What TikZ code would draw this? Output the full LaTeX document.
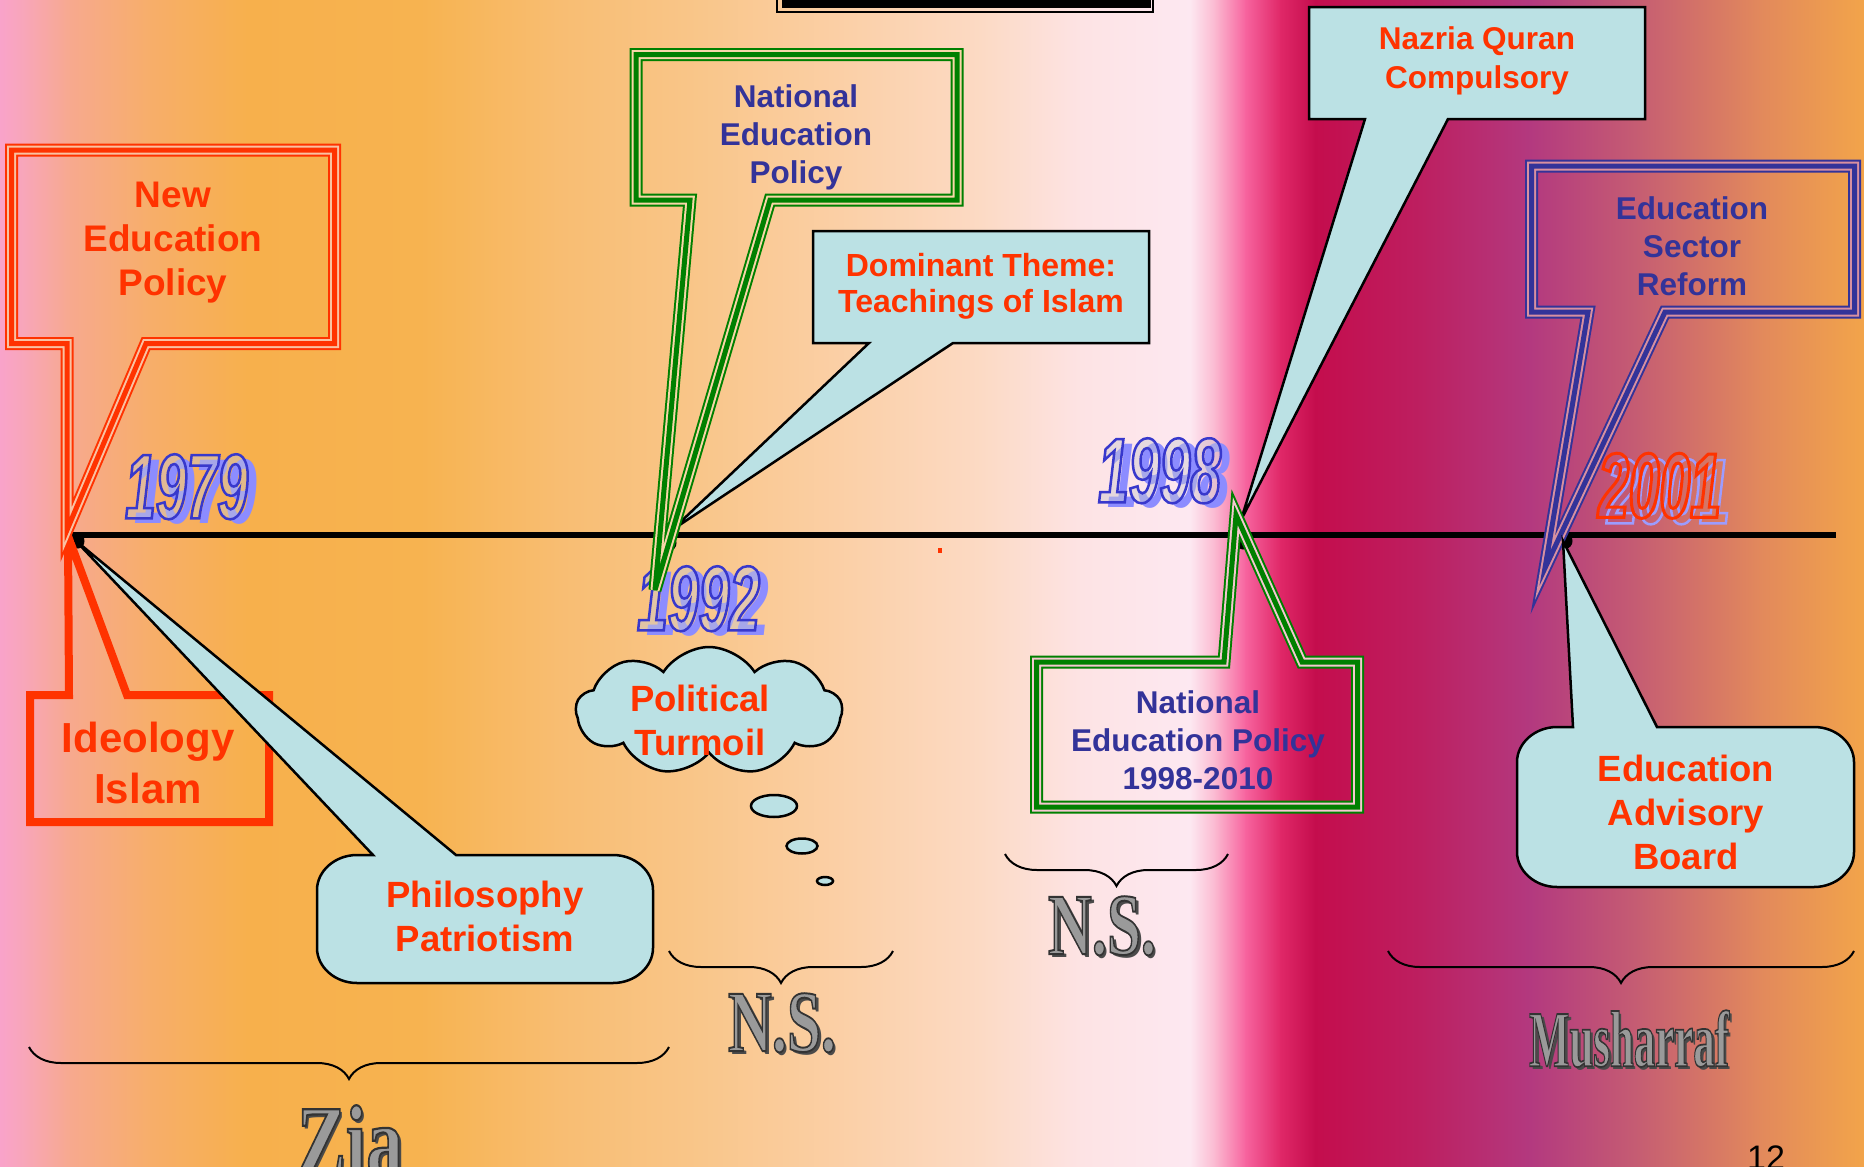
\documentclass[tikz,border=0pt]{standalone}
\usepackage{fontspec}
\usepackage{graphicx}
\setmainfont{Liberation Sans}
\newfontfamily\yearfam[FakeStretch=0.6]{Liberation Sans}
\newfontfamily\artfam{Liberation Serif}
\usetikzlibrary{shapes.symbols,decorations.pathreplacing}
\definecolor{ored}{HTML}{FF3300}
\definecolor{nblue}{HTML}{333399}
\definecolor{cfill}{HTML}{BBE1E4}
\definecolor{dgreen}{HTML}{008000}
\definecolor{yblue}{HTML}{3838CC}
\definecolor{shblue}{HTML}{8C8CFF}
\definecolor{shblueb}{HTML}{9C9CFF}
\definecolor{yfill}{HTML}{C8C8D0}
\definecolor{mgrey}{HTML}{9A9A9A}
\definecolor{mshadow}{HTML}{4A4A4A}
\definecolor{gapred}{HTML}{F9C2A2}
\definecolor{gapgreen}{HTML}{F8D6A8}
\definecolor{gapgreenb}{HTML}{F4C8D0}
\definecolor{gapblue}{HTML}{D890A0}
\definecolor{c0}{HTML}{F9A3CA}
\definecolor{c1}{HTML}{F8A6B8}
\definecolor{c2}{HTML}{F7A98E}
\definecolor{c3}{HTML}{F7AE6A}
\definecolor{c4}{HTML}{F7B04C}
\definecolor{c5}{HTML}{F7B350}
\definecolor{c6}{HTML}{F8BD72}
\definecolor{c7}{HTML}{F9C68A}
\definecolor{c8}{HTML}{FBD0A8}
\definecolor{c9}{HTML}{FCDAC4}
\definecolor{c10}{HTML}{FDE3E4}
\definecolor{c11}{HTML}{FDE8F1}
\definecolor{c12}{HTML}{FBB8D0}
\definecolor{c13}{HTML}{F7649F}
\definecolor{c14}{HTML}{E02868}
\definecolor{c15}{HTML}{C40D4D}
\definecolor{c16}{HTML}{BD1F60}
\definecolor{c17}{HTML}{B3397F}
\definecolor{c18}{HTML}{C65E72}
\definecolor{c19}{HTML}{E2895C}
\definecolor{c20}{HTML}{F2A44A}
\newcommand\strk[2]{\special{pdf:literal direct #1 w 1 Tr}#2\special{pdf:literal direct 0 Tr}}
\newcommand\mstrk[1]{\special{pdf:literal direct 0.2 0.2 0.2 RG 0.22 w 2 Tr}#1\special{pdf:literal direct 0 Tr}}
\newcommand\bgseg[4]{\shade[left color=#3,right color=#4] (#1,0) rectangle ({#2+0.8},1167);}
\tikzset{
  tri/.style 2 args={draw=#1, line width=13pt, line join=miter,
    postaction={draw=#2, line width=9pt, line join=miter},
    postaction={draw=#1, line width=5pt, line join=miter}},
  bubble/.style={draw=black, fill=cfill, line width=2.5pt, line join=miter},
  brc/.style={draw=black, line width=2pt, decorate, decoration={brace, mirror, amplitude=32pt}},
  txt/.style 2 args={align=center, inner sep=0pt, font=\bfseries\fontsize{#1}{#2}\selectfont},
  yr/.style={inner sep=0pt, anchor=north west, font=\yearfam\bfseries\itshape\fontsize{92}{92}\selectfont},
  art/.style={inner sep=0pt, anchor=north},
}
\begin{document}
\begin{tikzpicture}[x=1pt,y=-1pt]
\useasboundingbox (0,0) rectangle (1864,1167);
% background
\bgseg{0}{25}{c0}{c1}
\bgseg{25}{70}{c1}{c2}
\bgseg{70}{150}{c2}{c3}
\bgseg{150}{250}{c3}{c4}
\bgseg{250}{420}{c4}{c5}
\bgseg{420}{560}{c5}{c6}
\bgseg{560}{700}{c6}{c7}
\bgseg{700}{850}{c7}{c8}
\bgseg{850}{980}{c8}{c9}
\bgseg{980}{1080}{c9}{c10}
\bgseg{1080}{1190}{c10}{c11}
\bgseg{1190}{1215}{c11}{c12}
\bgseg{1215}{1245}{c12}{c13}
\bgseg{1245}{1280}{c13}{c14}
\bgseg{1280}{1315}{c14}{c15}
\bgseg{1315}{1420}{c15}{c16}
\bgseg{1420}{1530}{c16}{c17}
\bgseg{1530}{1640}{c17}{c18}
\bgseg{1640}{1760}{c18}{c19}
\bgseg{1760}{1863.2}{c19}{c20}

% title frame (cut off)
\draw[line width=2pt] (777,-20) rectangle (1153,11.5);
\draw[line width=7pt] (785,-20) rectangle (1147.5,4);

% timeline
\draw[line width=6pt] (62,535) -- (1836,535);
\fill (78,541) ellipse [x radius=6.5pt, y radius=7.5pt];
\fill (670,543) ellipse [x radius=6.5pt, y radius=7.5pt];
\fill (1243,542) ellipse [x radius=6.5pt, y radius=7.5pt];
\fill (1566,541) ellipse [x radius=6.5pt, y radius=7.5pt];
\fill[ored] (938,548) rectangle (942,553);

% years
\node[yr, text=shblue] (y79s) at (134,459) {1979};
\node[yr, text=yfill, text opacity=0.45] (y79f) at (125,454) {1979};
\node[yr, text=yblue] (y79) at (125,454) {\strk{2.5}{1979}};
\node[yr, text=shblue] (y92s) at (646,571) {1992};
\node[yr, text=yfill, text opacity=0.45] (y92f) at (637,566) {1992};
\node[yr, text=yblue] (y92) at (637,566) {\strk{2.5}{1992}};
\node[yr, text=shblue] (y98s) at (1107,443) {1998};
\node[yr, text=yfill, text opacity=0.45] (y98f) at (1098,438) {1998};
\node[yr, text=yblue] (y98) at (1098,438) {\strk{2.5}{1998}};
\node[yr, text=shblueb] (y01s) at (1607,459) {\strk{2.5}{2001}};
\node[yr, text=ored] (y01) at (1598,453) {\strk{3}{2001}};

% Ideology Islam callout
\draw[ored, line width=8pt, line join=miter] (30,695) -- (69,695) -- (68,536) -- (127,695) -- (269,695) -- (269,822) -- (30,822) -- cycle;
\node[txt={42}{51}, text=ored] (ideo) at (148,763) {Ideology\\Islam};

% Philosophy Patriotism callout
\draw[bubble] (373,855) -- (75,540) -- (456,855) -- (613,855) .. controls (635,855) and (653,871) .. (653,890) -- (653,948) .. controls (653,967) and (635,983) .. (613,983) -- (357,983) .. controls (335,983) and (317,967) .. (317,948) -- (317,890) .. controls (317,871) and (335,855) .. (357,855) -- cycle;
\node[txt={36.5}{44}, text=ored] (philo) at (485,916) {Philosophy\\Patriotism};

% New Education Policy callout
\draw[tri={ored}{gapred}] (11.5,150) -- (334.5,150) -- (334.5,343.5) -- (146,343.5) -- (67,530) -- (67,343.5) -- (11.5,343.5) -- cycle;
\node[txt={37}{44}, text=ored] (nep) at (173,243) {New\\Education\\Policy};

% Dominant theme callout
\draw[bubble] (813,231) -- (1149,231) -- (1149,343) -- (953,343) -- (672,530) -- (869,343) -- (813,343) -- cycle;
\node[txt={32}{36}, text=ored] (dom) at (981,286) {Dominant Theme:\\Teachings of Islam};

% National Education Policy 1992 callout
\draw[tri={dgreen}{gapgreen}] (636,54.5) -- (957,54.5) -- (957,200) -- (770,200) -- (655,590) -- (690,200) -- (636,200) -- cycle;
\node[txt={31.5}{38}, text=nblue] (nep92) at (796,137) {National\\Education\\Policy};

% Political turmoil cloud
\node[cloud, cloud puffs=9, cloud puff arc=115, cloud ignores aspect, draw=black, fill=cfill, line width=2.5pt, minimum width=266pt, minimum height=128pt, inner sep=0pt] (cloud) at (709,711) {};
\node[txt={36.5}{44}, text=ored] (polit) at (700,720) {Political\\Turmoil};
\draw[bubble] (774,806) ellipse [x radius=23pt, y radius=11pt];
\draw[bubble] (802,846) ellipse [x radius=15.5pt, y radius=7.5pt];
\draw[bubble] (825,881) ellipse [x radius=8pt, y radius=4pt];

% Nazria Quran callout
\draw[bubble] (1309,7) -- (1645,7) -- (1645,119) -- (1448,119) -- (1241,520) -- (1365,119) -- (1309,119) -- cycle;
\node[txt={31.5}{39}, text=ored] (naz) at (1477,61) {Nazria Quran\\Compulsory};

% National Education Policy 1998-2010 callout
\draw[tri={dgreen}{gapgreenb}] (1036.5,662) -- (1224,662) -- (1236,515) -- (1302,662) -- (1357.5,662) -- (1357.5,807) -- (1036.5,807) -- cycle;
\node[txt={31.5}{38}, text=nblue] (nep98) at (1198,740) {National\\Education Policy\\1998-2010};

% Education Sector Reform callout
\draw[tri={nblue}{gapblue}] (1531.5,166) -- (1854.5,166) -- (1854.5,312) -- (1665,312) -- (1545,568) -- (1588,312) -- (1531.5,312) -- cycle;
\node[txt={31.5}{38}, text=nblue] (esr) at (1692,246) {Education\\Sector\\Reform};

% Education Advisory Board callout
\draw[bubble] (1573,727) -- (1563,541) -- (1657,727) -- (1814,727) .. controls (1836,727) and (1854,743) .. (1854,762) -- (1854,852) .. controls (1854,871) and (1836,887) .. (1814,887) -- (1557,887) .. controls (1535,887) and (1517,871) .. (1517,852) -- (1517,762) .. controls (1517,743) and (1535,727) .. (1557,727) -- cycle;
\node[txt={36.5}{44}, text=ored] (eab) at (1686,812) {Education\\Advisory\\Board};

% braces
\coordinate (zA) at (29,1047); \coordinate (zB) at (669,1047);
\coordinate (n1A) at (669,951); \coordinate (n1B) at (893,951);
\coordinate (n2A) at (1005,854); \coordinate (n2B) at (1228,854);
\coordinate (mA) at (1388,951); \coordinate (mB) at (1854,951);
\draw[brc] (zA) -- (zB);
\draw[brc] (n1A) -- (n1B);
\draw[brc] (n2A) -- (n2B);
\draw[brc] (mA) -- (mB);

% metallic labels
\node[art, text=mshadow] (ziash) at (353,1108) {\resizebox{106pt}{70pt}{\artfam\bfseries Zia}};
\node[art, text=mgrey] (zia) at (350,1105) {\resizebox{106pt}{70pt}{\artfam\bfseries\mstrk{Zia}}};
\node[art, text=mshadow] (ns1sh) at (785,996) {\resizebox{108pt}{58pt}{\artfam\bfseries N.S.}};
\node[art, text=mgrey] (ns1) at (782,993) {\resizebox{108pt}{58pt}{\artfam\bfseries\mstrk{N.S.}}};
\node[art, text=mshadow] (ns2sh) at (1105,899) {\resizebox{108pt}{58pt}{\artfam\bfseries N.S.}};
\node[art, text=mgrey] (ns2) at (1102,896) {\resizebox{108pt}{58pt}{\artfam\bfseries\mstrk{N.S.}}};
\node[art, text=mshadow] (mushsh) at (1632,1013) {\resizebox{200pt}{56pt}{\artfam\bfseries Musharraf}};
\node[art, text=mgrey] (mush) at (1629,1010) {\resizebox{200pt}{56pt}{\artfam\bfseries\mstrk{Musharraf}}};

% page number
\node[inner sep=0pt, anchor=north, font=\fontsize{34}{34}\selectfont] (pg) at (1766,1146) {12};
\end{tikzpicture}
\end{document}
